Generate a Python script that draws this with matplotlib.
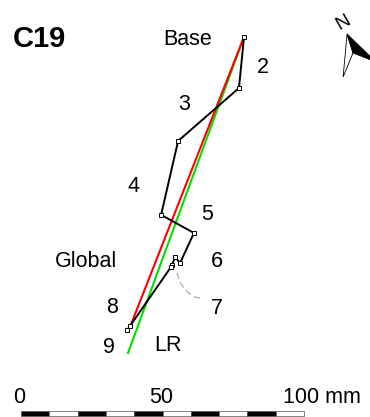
import numpy as np
import matplotlib.pyplot as plt
from matplotlib.patches import Polygon, Rectangle

plt.rcParams["font.family"] = ["Liberation Sans", "DejaVu Sans"]

# section trace, all in mm (x east, y north), origin at left end of scale bar
trace_x = [78.8, 77.0, 55.5, 49.5, 61.1, 56.2, 54.4, 53.4, 53.0, 38.5, 37.5]
trace_y = [132.9, 114.8, 96.1, 70.0, 63.6, 53.0, 55.1, 52.3, 51.6, 30.7, 29.3]

# fitted directions
global_x = [78.8, 38.9]
global_y = [132.9, 31.4]
lr_x = [78.8, 37.8]
lr_y = [132.9, 21.2]

# leader from label 7
leader_x = [55.1, 56.5, 58.7, 61.5, 64.3]
leader_y = [49.5, 45.6, 42.8, 41.0, 40.3]

# annotation labels: text, x, y (baseline)
labels = ["Base", "2", "3", "4", "5", "6", "7", "8", "9", "Global", "LR"]
label_x = [58.7, 85.3, 57.8, 39.6, 65.7, 69.1, 69.1, 32.3, 31.1, 23.1, 51.8]
label_y = [130.0, 120.1, 107.1, 78.1, 68.2, 51.6, 35.0, 35.3, 21.2, 51.6, 21.9]

# scale bar
bar_len = 100
bar_step = 10
bar_ticks = [0, 50, 100]
bar_tick_labels = ["0", "50", "100 mm"]

fig = plt.figure(figsize=(3.7, 4.17), dpi=100)
ax = fig.add_axes([0, 0, 1, 1])
ax.set_xlim(-7.42, 123.3)
ax.set_ylim(-1.41, 145.9)
ax.set_axis_off()

ax.plot(lr_x, lr_y, color="#00dd00", lw=1.5, zorder=2)
ax.plot(global_x, global_y, color="#ff0000", lw=1.5, zorder=3)
ax.plot(trace_x, trace_y, color="black", lw=1.4, zorder=4,
        marker="s", ms=3, mfc="white", mec="black", mew=0.7)
ax.plot(leader_x, leader_y, color="#aaaaaa", lw=0.9, ls=(0, (5, 3)), zorder=1)

for t, x, y in zip(labels, label_x, label_y):
    ax.text(x, y, t, fontsize=15.5, ha="center", va="baseline")

ax.text(6.6, 129.3, "C19", fontsize=21, fontweight="bold",
        ha="center", va="baseline")

# scale bar segments
for i, x0 in enumerate(np.arange(0, bar_len, bar_step)):
    fc = "black" if i % 2 == 0 else "white"
    ax.add_patch(Rectangle((x0, -1.06), bar_step, 1.77, facecolor=fc,
                           edgecolor="#555555", lw=0.5))
for v, t in zip(bar_ticks, bar_tick_labels):
    if t.endswith("mm"):
        ax.text(v - 7.4, 3.5, t, fontsize=15.5, ha="left", va="baseline")
    else:
        ax.text(v - 0.5, 3.5, t, fontsize=15.5, ha="center", va="baseline")

# north arrow
ax.add_patch(Polygon([(115.2, 133.9), (113.8, 118.7), (117.3, 127.2)],
                     closed=True, facecolor="white", edgecolor="black", lw=0.6))
ax.add_patch(Polygon([(115.2, 133.9), (117.3, 127.2), (125.4, 124.0)],
                     closed=True, facecolor="black", edgecolor="black", lw=0.6))
ax.text(114.0, 138.0, "N", fontsize=14, rotation=30, ha="center", va="center")

fig.savefig("out.png", dpi=100)
